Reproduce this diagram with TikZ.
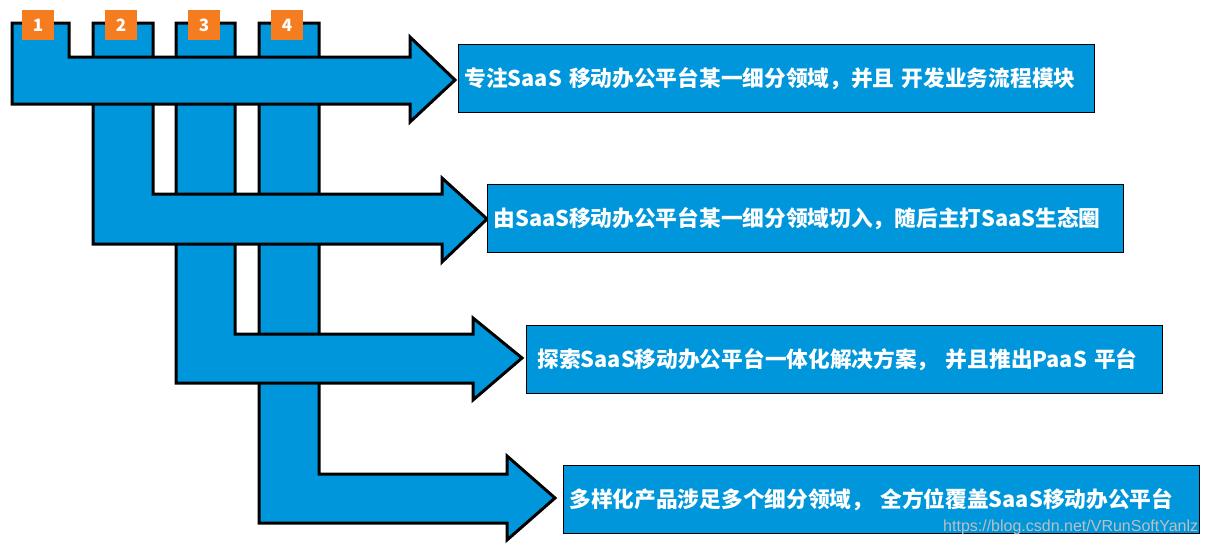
\documentclass[tikz,border=0pt]{standalone}
\usepackage{fontspec}
\setmainfont{Liberation Sans}
\newfontfamily\cjk{Noto Sans CJK SC}
\definecolor{saasblue}{RGB}{0,150,219}
\definecolor{badgeorange}{RGB}{245,125,32}

\begin{document}
\begin{tikzpicture}[x=1pt,y=-1pt,
        bent/.style={fill=saasblue,draw=black,line width=3pt},
        textbox/.style={draw=black,line width=0.9pt,fill=saasblue,text=white,anchor=north west,
            minimum height=68pt,text width=624pt,inner xsep=6pt,align=left,
            font=\cjk\bfseries\fontsize{21.7}{26}\selectfont},
        badge/.style={fill=badgeorange,text=white,minimum width=32pt,minimum height=30pt,
            inner sep=0pt,font=\cjk\bfseries\fontsize{17}{20}\selectfont}]
    \useasboundingbox (0,0) rectangle (1208,547);
    % bent arrows, the last one first so each lies over the bars on its right
    \foreach \xl/\xr/\yi/\yo/\xb/\yt/\yb/\xp/\ym in {259/319/474/523/507/456/540/555/498,
            176/235/334/383/473/318/400/522/358,
            93/153/194/244/442/178/262/487/219,
            12/69/57/104/410/37/122/455/80}
        \draw[bent] (\xl,23) -- (\xr,23) -- (\xr,\yi) -- (\xb,\yi) -- (\xb,\yt)
            -- (\xp,\ym) -- (\xb,\yb) -- (\xb,\yo) -- (\xl,\yo) -- cycle;
    \node[badge] (n1) at (38,25) {1};
    \node[badge] (n2) at (121,25) {2};
    \node[badge] (n3) at (204,25) {3};
    \node[badge] (n4) at (287,25) {4};
    \node[textbox] (t1) at (458,44) {专注SaaS 移动办公平台某一细分领域，并且 开发业务流程模块};
    \node[textbox] (t2) at (487,184) {由SaaS移动办公平台某一细分领域切入，随后主打SaaS生态圈};
    \node[textbox] (t3) at (526,325) {\hspace*{5pt}探索SaaS移动办公平台一体化解决方案， 并且推出PaaS 平台};
    \node[textbox] (t4) at (563,465) {多样化产品涉足多个细分领域， 全方位覆盖SaaS移动办公平台};
    \node[text=gray!50,font=\fontsize{16}{18}\selectfont,anchor=base west,inner sep=0pt] (url)
        at (943,531) {https://blog.csdn.net/VRunSoftYanlz};
\end{tikzpicture}
\end{document}
